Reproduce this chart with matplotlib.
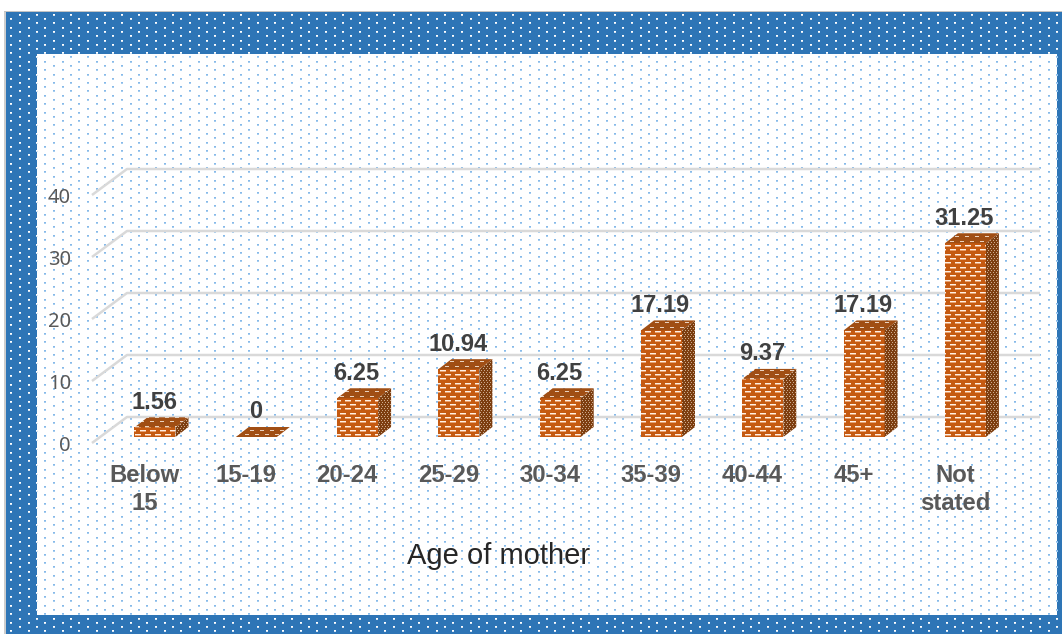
import numpy as np
import matplotlib
matplotlib.use('Agg')
import matplotlib.pyplot as plt
from matplotlib.path import Path
from matplotlib.patches import PathPatch

# DATA
edades = ['Below\n15', '15-19', '20-24', '25-29', '30-34', '35-39', '40-44', '45+', 'Not\nstated']
valores = [1.56, 0, 6.25, 10.94, 6.25, 17.19, 9.37, 17.19, 31.25]
etiquetas = ['1.56', '0', '6.25', '10.94', '6.25', '17.19', '9.37', '17.19', '31.25']
ticks_y = [0, 10, 20, 30, 40]

# escala en pixeles
W, H = 1062, 634
px_x = 101.3   # pixeles por categoria
px_y = 6.2     # pixeles por unidad
x0, y0 = 155, 437

def dx(p):
    return p/px_x

def dy(p):
    return p/px_y

fig = plt.figure(figsize=(W/100, H/100), dpi=100)
ax = fig.add_axes([0, 0, 1, 1])
ax.axis('off')

# fondo punteado
def puntos(img, mask, color, halo):
    for k, fila in enumerate(np.arange(14, H, 4.25)):
        yi = int(round(fila))
        inicio = 19 if k % 2 == 0 else 10.5
        for xv in np.arange(inicio, W, 17):
            xi = int(round(xv))
            if xi+1 < W and yi+1 < H and mask[yi, xi]:
                img[yi, xi] = color
                img[yi, xi+1] = color
                img[yi+1, xi] = halo
                img[yi+1, xi+1] = halo

fondo = np.ones((H, W, 3))
azul = np.array([46, 117, 182])/255
fondo[12:, 6:] = azul
fondo[11:, 4:6] = np.array([205, 205, 205])/255
fondo[11:12, 4:] = np.array([195, 195, 195])/255
marco = np.zeros((H, W), dtype=bool)
marco[12:, 6:] = True
panel = np.zeros((H, W), dtype=bool)
panel[54:615, 37:1057] = True
marco[panel] = False
fondo[panel] = 1
puntos(fondo, marco, np.array([1, 1, 1]), azul*0.2+0.8)
puntos(fondo, panel, np.array([135, 185, 232])/255, np.array([165, 205, 240])/255)

ax.imshow(fondo, extent=(0, 1, 0, 1), transform=ax.transAxes, aspect='auto',
          interpolation='nearest', zorder=0)

xlim = (-x0/px_x, (W-x0)/px_x)
ylim = (-(H-y0)/px_y, y0/px_y)

# rejilla 3d
gris = '#d9d9d9'
for t in ticks_y:
    xs = [dx(92-x0), dx(127-x0), dx(1040-x0)]
    ys = [t+dy(-6), t+dy(20), t+dy(20)]
    ax.plot(xs, ys, color=gris, lw=1.8, zorder=1, solid_capstyle='butt')
    ax.annotate(str(t), (dx(71-x0), t), xytext=(0, -6.5), textcoords='offset points',
                ha='right', va='center', fontsize=14.5, color='#595959', family='Noto Sans', zorder=5)

# barras: cara frontal, lateral y superior
medio = dx(20.5)
fx, fy = dx(13), dy(10)
frente, lado, tapa = [], [], []
for i, v in enumerate(valores):
    a, b = i-medio, i+medio
    if v > 0:
        frente.append(Path([(a, 0), (b, 0), (b, v), (a, v), (a, 0)], closed=True))
        lado.append(Path([(b, 0), (b+fx, fy), (b+fx, v+fy), (b, v), (b, 0)], closed=True))
    tapa.append(Path([(a, v), (b, v), (b+fx, v+fy), (a+fx, v+fy), (a, v)], closed=True))

def ladrillos(base, claro, paso_y, largo, paso_x, medio_tono=None):
    img = np.ones((H, W, 3))*np.array(base)/255
    c = np.array(claro)/255
    for k, fila in enumerate(np.arange(0, H, paso_y)):
        yi = int(round(fila))
        desp = 0 if k % 2 == 0 else paso_x//2
        for xi in range(desp, W, paso_x):
            img[yi, xi:xi+largo] = c
            if medio_tono is not None and yi+1 < H:
                img[yi+1, xi:xi+largo] = np.array(medio_tono)/255
    return img

tex_frente = ladrillos((197, 90, 17), (255, 240, 228), 4.3, 6, 10, (232, 160, 110))
tex_tapa = ladrillos((160, 78, 20), (235, 210, 190), 4.3, 4, 10)
tex_lado = ladrillos((125, 62, 16), (205, 170, 140), 2, 1, 3)

for tex, caras in ((tex_frente, frente), (tex_lado, lado), (tex_tapa, tapa)):
    im = ax.imshow(tex, extent=(xlim[0], xlim[1], ylim[0], ylim[1]), aspect='auto',
                   interpolation='nearest', zorder=3)
    parche = PathPatch(Path.make_compound_path(*caras), transform=ax.transData)
    im.set_clip_path(parche)

# etiquetas de valores y categorias
for i, v in enumerate(valores):
    ax.annotate(etiquetas[i], (i, v), xytext=(-0.7, 18), textcoords='offset points',
                ha='center', va='center', fontsize=17, fontweight='bold',
                color='#404040', family='Liberation Sans', zorder=6)

for i, e in enumerate(edades):
    ax.text(i-dx(10.5), dy(-27), e, ha='center', va='top', fontsize=17.2, fontweight='bold',
            color='#595959', family='Liberation Sans', linespacing=1.3, zorder=6)

ax.text(dx(499-x0), dy(y0-556), 'Age of mother', ha='center', va='center', fontsize=21,
        color='#262626', family='Liberation Sans', zorder=6)

ax.set_xlim(*xlim)
ax.set_ylim(*ylim)

plt.savefig('out.png', dpi=100)
